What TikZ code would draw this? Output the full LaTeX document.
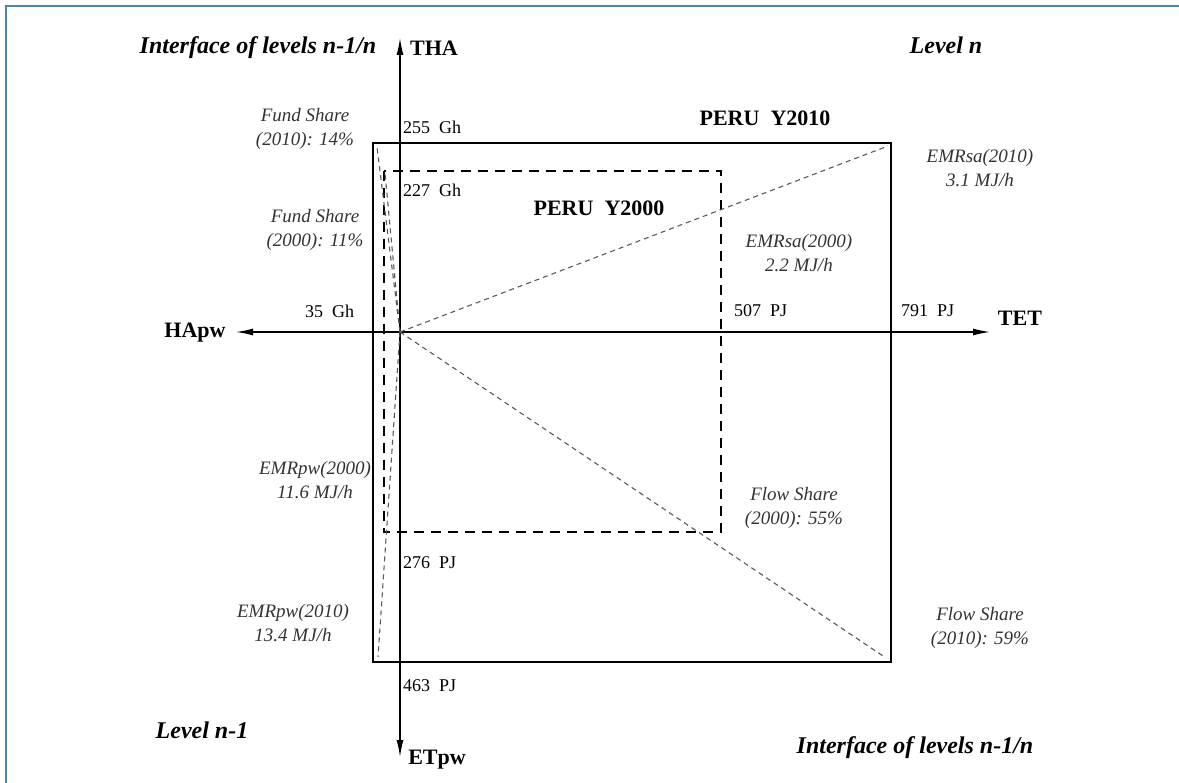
\documentclass[tikz,border=0pt]{standalone}
\usepackage{fontspec}
\setmainfont{Liberation Serif}
\usepackage{tikz}
\usetikzlibrary{positioning}
\usetikzlibrary{arrows.meta}
\usetikzlibrary{calc}
\definecolor{frameblue}{RGB}{79,129,189}

\begin{document}
\begin{tikzpicture}[
  x=1pt, y=-1pt,
  frame/.style={draw=frameblue, line width=2pt},
  axis/.style={line width=1.3pt, {Latex[length=17pt,width=7pt]}-{Latex[length=17pt,width=7pt]}},
  box2010/.style={line width=2.8pt},
  box2000/.style={line width=2.6pt, dash pattern=on 10pt off 7pt},
  ratio/.style={draw=black!65, line width=1.1pt, dash pattern=on 5pt off 4pt},
  axlabel/.style={font=\fontsize{22}{26}\selectfont\bfseries, inner sep=0pt},
  levlabel/.style={font=\fontsize{24}{28}\selectfont\bfseries\itshape, inner sep=0pt},
  yearlabel/.style={font=\fontsize{22}{26}\selectfont\bfseries, inner sep=0pt},
  val/.style={font=\fontsize{18}{22}\selectfont, inner sep=0pt, anchor=west},
  note/.style={font=\fontsize{19}{24}\selectfont\itshape, align=center, inner sep=0pt, text=black!80},
]
  \useasboundingbox (0,0) rectangle (1179,783);
  \draw[frame] (6,783) -- (6,6) -- (1179,6);

  % axes
  \coordinate (O) at (400,332);
  \coordinate (thaTip) at (400,38);
  \coordinate (etpwTip) at (400,757);
  \coordinate (hapwTip) at (236,332);
  \coordinate (tetTip) at (990,332);
  \draw[axis] (etpwTip) -- (thaTip);
  \draw[axis] (hapwTip) -- (tetTip);

  % boxes
  \coordinate (nw10) at (373,143);
  \coordinate (se10) at (891,662);
  \coordinate (ne10) at (891,143);
  \coordinate (sw10) at (373,662);
  \coordinate (nw00) at (384,171);
  \coordinate (se00) at (721,532);
  \draw[box2010] (nw10) rectangle (se10);
  \draw[box2000] (nw00) rectangle (se00);

  \draw[ratio] (O) -- ($(ne10)+(-3,3)$);
  \draw[ratio] (O) -- ($(se10)+(-5,-4)$);
  \draw[ratio] (O) -- ($(nw10)+(4,4)$);
  \draw[ratio] (O) -- ($(nw00)+(1,2)$);
  \draw[ratio] (O) -- ($(sw10)+(5,-5)$);

  % axis labels
  \node[axlabel] (tha) at (434,48) {THA};
  \node[axlabel] (etpw) at (437,760) {ETpw};
  \node[axlabel] (hapw) at (195,333) {HApw};
  \node[axlabel] (tet) at (1020,318) {TET};

  \node[levlabel] (ifaceTop) at (258,48) {Interface of levels n-1/n};
  \node[levlabel] (levelN) at (946,45) {Level n};
  \node[levlabel] (levelNm) at (202,730) {Level n-1};
  \node[levlabel] (ifaceBot) at (915,748) {Interface of levels n-1/n};

  \node[yearlabel] (peru10) at (765,118) {PERU\ \ Y2010};
  \node[yearlabel] (peru00) at (599,208) {PERU\ \ Y2000};

  % values
  \node[val] (v255) at (403,127) {255\ \ Gh};
  \node[val] (v227) at (403,190) {227\ \ Gh};
  \node[val] (v35) at (305,311) {35\ \ Gh};
  \node[val] (v507) at (734,311) {507\ \ PJ};
  \node[val] (v791) at (901,311) {791\ \ PJ};
  \node[val] (v276) at (403,563) {276\ \ PJ};
  \node[val] (v463) at (403,686) {463\ \ PJ};

  % ratios
  \node[note] (fund10) at (305,129) {Fund Share\\(2010): 14\%};
  \node[note] (fund00) at (315,230) {Fund Share\\(2000): 11\%};
  \node[note] (emrsa10) at (980,168) {EMRsa(2010)\\3.1 MJ/h};
  \node[note] (emrsa00) at (799,253) {EMRsa(2000)\\2.2 MJ/h};
  \node[note] (emrpw00) at (315,480) {EMRpw(2000)\\11.6 MJ/h};
  \node[note] (emrpw10) at (293,623) {EMRpw(2010)\\13.4 MJ/h};
  \node[note] (flow00) at (794,508) {Flow Share\\(2000): 55\%};
  \node[note] (flow10) at (980,628) {Flow Share\\(2010): 59\%};
\end{tikzpicture}
\end{document}
